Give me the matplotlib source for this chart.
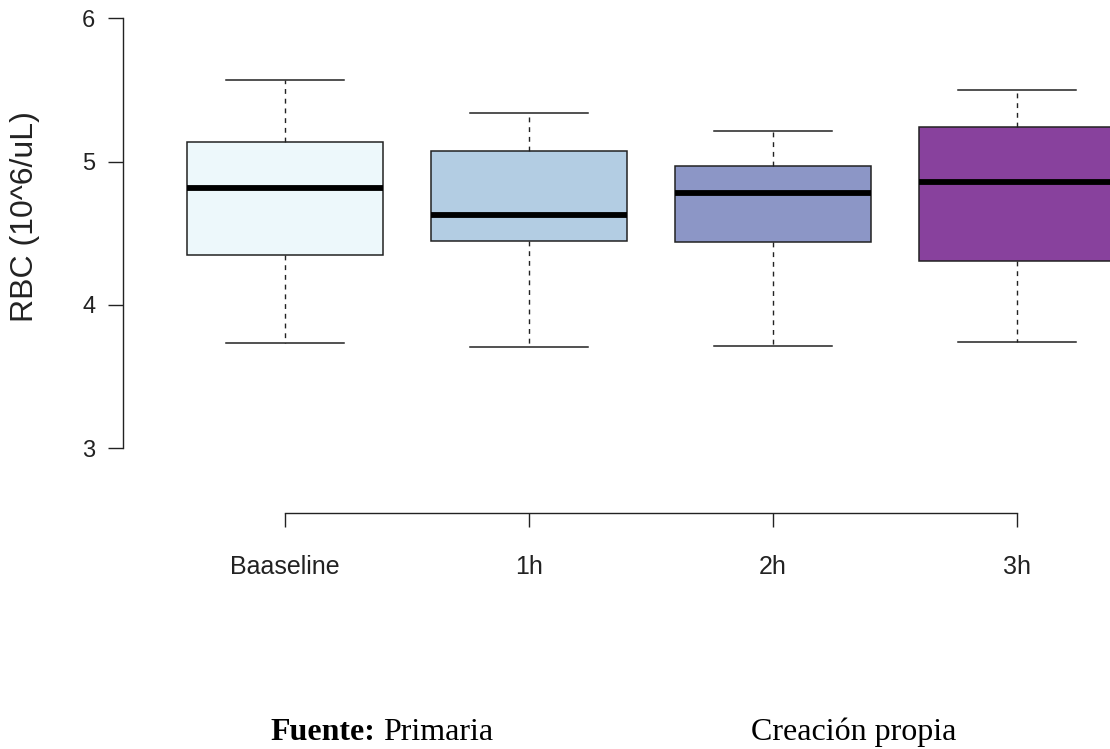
import numpy as np
import matplotlib
matplotlib.use("Agg")
from matplotlib import pyplot as plt

# RBC boxplot per time point
groups = ['Baaseline', '1h', '2h', '3h']
whisk_lo = [3.734, 3.706, 3.713, 3.743]
q1 = [4.348, 4.448, 4.437, 4.308]
medians = [4.816, 4.625, 4.779, 4.858]
q3 = [5.137, 5.074, 4.972, 5.244]
whisk_hi = [5.569, 5.337, 5.216, 5.498]
colors = ['#EDF8FB', '#B3CDE3', '#8C96C6', '#88419D']

plt.rcParams['font.family'] = ['Liberation Sans', 'DejaVu Sans']

W, H = 1110, 749
fig = plt.figure(figsize=(W / 100, H / 100), dpi=100)

# axes placed in pixels; right side runs off the canvas like the cropped original
left_px, top_px, bottom_px = 123, 0, 513
px_per_x = 244.0
x0, x1 = 0.336, 4.664
ax_w = (x1 - x0) * px_per_x
ax = fig.add_axes([left_px / W, 1 - bottom_px / H, ax_w / W, (bottom_px - top_px) / H])

px_per_y = 143.3
y6 = 18.3
ax.set_xlim(x0, x1)
ax.set_ylim(6 - (bottom_px - y6) / px_per_y, 6 + (y6 - top_px) / px_per_y)

stats = []
for i, g in enumerate(groups):
    stats.append(dict(label=g, whislo=whisk_lo[i], q1=q1[i], med=medians[i],
                      q3=q3[i], whishi=whisk_hi[i], fliers=[]))

bp = ax.bxp(stats, positions=np.arange(1, len(groups) + 1), widths=0.8,
            capwidths=0.484, patch_artist=True, showfliers=False,
            boxprops=dict(edgecolor='#222222', linewidth=1.1),
            medianprops=dict(color='black', linewidth=4.2, solid_capstyle='butt'),
            whiskerprops=dict(color='#222222', linewidth=1.0, linestyle=(0, (3.5, 3.5))),
            capprops=dict(color='#222222', linewidth=1.1))
for patch, c in zip(bp['boxes'], colors):
    patch.set_facecolor(c)

for s in ['top', 'right']:
    ax.spines[s].set_visible(False)
ax.spines['left'].set_bounds(3, 6)
ax.spines['bottom'].set_bounds(1, 4)
for s in ['left', 'bottom']:
    ax.spines[s].set_linewidth(1.0)
    ax.spines[s].set_color('#222222')

ax.set_yticks([3, 4, 5, 6])
ax.set_yticklabels(['3', '4', '5', '6'])
ax.set_xticks(np.arange(1, len(groups) + 1))
ax.set_xticklabels(groups)
ax.tick_params(axis='y', length=11, width=1.0, pad=9, labelsize=17, colors='#222222')
ax.tick_params(axis='x', length=10, width=1.0, pad=20, labelsize=18, colors='#222222')

fig.text(25 / W, 1 - 217 / H, 'RBC (10^6/uL)', rotation=90, ha='center', va='center',
         fontsize=23, color='#222222')

# source line under the chart (serif, like the document text)
fig.text(270 / W, 1 - 740 / H, 'Fuente:', fontsize=23, fontweight='bold',
         family='Liberation Serif', ha='left', va='baseline')
fig.text(383 / W, 1 - 740 / H, 'Primaria', fontsize=23,
         family='Liberation Serif', ha='left', va='baseline')
fig.text(751 / W, 1 - 740 / H, 'Creación propia', fontsize=23,
         family='Liberation Serif', ha='left', va='baseline')

fig.savefig('out.png', dpi=100)
